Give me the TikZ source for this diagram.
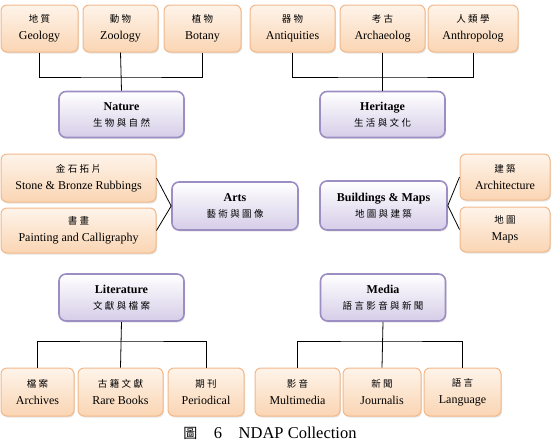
\documentclass[tikz,border=0pt]{standalone}
\usepackage{fontspec}
\setmainfont{Liberation Serif}
\newfontfamily\cjk[LetterSpace=25]{Noto Sans CJK TC}
\usetikzlibrary{shadows}
\usepackage{xcolor}

\definecolor{leafline}{HTML}{F2B88A}
\definecolor{leaftop}{HTML}{FEF4EA}
\definecolor{leafbot}{HTML}{FAD5B3}
\definecolor{grpline}{HTML}{9C8EC3}
\definecolor{grptop}{HTML}{FFFFFF}
\definecolor{grpbot}{HTML}{D6CDE8}

\newcommand{\zh}[1]{{\cjk\mdseries\fontsize{9.5}{12}\selectfont #1}}

\tikzset{
  leaf/.style={draw=leafline, line width=1pt, rounded corners=6pt,
    top color=leaftop, bottom color=leafbot, align=center, inner sep=0pt,
    font=\fontsize{12}{17}\selectfont,
    drop shadow={opacity=0.2, shadow xshift=1pt, shadow yshift=-1.5pt}},
  group/.style={draw=grpline, line width=1.6pt, rounded corners=7pt,
    top color=grptop, bottom color=grpbot, align=center, inner sep=0pt,
    font=\fontsize{12}{16}\selectfont\bfseries,
    minimum width=125pt, minimum height=46pt,
    drop shadow={opacity=0.2, shadow xshift=1pt, shadow yshift=-1.5pt}}
}

\begin{document}
\begin{tikzpicture}[x=1pt, y=-1pt, thick]
  \useasboundingbox (0,0) rectangle (553,442);

  % top row
  \node[leaf, minimum width=77pt, minimum height=47pt] (geo) at (39.5,28.5) {\zh{地質}\\Geology};
  \node[leaf, minimum width=75pt, minimum height=47pt] (zoo) at (120.5,28.5) {\zh{動物}\\Zoology};
  \node[leaf, minimum width=77pt, minimum height=47pt] (bot) at (202.5,28.5) {\zh{植物}\\Botany};
  \node[leaf, minimum width=85pt, minimum height=47pt] (anti) at (292.5,28.5) {\zh{器物}\\Antiquities};
  \node[leaf, minimum width=85pt, minimum height=47pt] (arch) at (382.5,28.5) {\zh{考古}\\Archaeolog};
  \node[leaf, minimum width=90pt, minimum height=47pt] (anth) at (473,28.5) {\zh{人類學}\\Anthropolog};

  \node[group] (nature) at (121.5,114.5) {Nature\\\zh{生物與自然}};
  \node[group] (heritage) at (382.5,114.5) {Heritage\\\zh{生活與文化}};

  \coordinate (naturebar) at (121.5,77);
  \coordinate (heritagebar) at (382.5,77);
  \draw (geo.south) |- (naturebar) -| (bot.south);
  \draw (zoo.south) -- (nature.north);
  \draw (anti.south) |- (heritagebar) -| (anth.south);
  \draw (arch.south) -- (heritage.north);

  % middle row
  \node[leaf, minimum width=155pt, minimum height=48pt] (rub) at (78.5,178) {\zh{金石拓片}\\Stone \& Bronze Rubbings};
  \node[leaf, minimum width=155pt, minimum height=45pt] (paint) at (78.5,230.5) {\zh{書畫}\\Painting and Calligraphy};
  \node[group, minimum width=126pt, minimum height=48pt] (arts) at (235,206) {Arts\\\zh{藝術與圖像}};

  \node[group, minimum width=127pt, minimum height=49pt] (bmaps) at (383.5,205.5) {Buildings \& Maps\\\zh{地圖與建築}};
  \node[leaf, minimum width=90pt, minimum height=46pt] (archi) at (505,177) {\zh{建築}\\Architecture};
  \node[leaf, minimum width=90pt, minimum height=45pt] (maps) at (505,229.5) {\zh{地圖}\\Maps};

  \draw (rub.east) -- (arts.west);
  \draw (paint.east) -- (arts.west);
  \draw (bmaps.east) -- (archi.west);
  \draw (bmaps.east) -- (maps.west);

  % bottom row
  \node[group, minimum height=47pt] (lit) at (121.5,297.5) {Literature\\\zh{文獻與檔案}};
  \node[group, minimum height=47pt] (media) at (383,297.5) {Media\\\zh{語言影音與新聞}};

  \node[leaf, minimum width=73pt, minimum height=48pt] (archv) at (37.5,392) {\zh{檔案}\\Archives};
  \node[leaf, minimum width=85pt, minimum height=48pt] (rare) at (120.5,392) {\zh{古籍文獻}\\Rare Books};
  \node[leaf, minimum width=76pt, minimum height=48pt] (peri) at (206,392) {\zh{期刊}\\Periodical};
  \node[leaf, minimum width=85pt, minimum height=48pt] (multi) at (297.5,392) {\zh{影音}\\Multimedia};
  \node[leaf, minimum width=78pt, minimum height=48pt] (journ) at (382,392) {\zh{新聞}\\Journalis};
  \node[leaf, minimum width=77pt, minimum height=48pt] (lang) at (462.5,392) {\zh{語言}\\Language};

  \coordinate (litbar) at (121.5,341);
  \coordinate (mediabar) at (383,341);
  \draw (archv.north) |- (litbar) -| (peri.north);
  \draw (lit.south) -- (rare.north);
  \draw (multi.north) |- (mediabar) -| (lang.north);
  \draw (media.south) -- (journ.north);

  \node[font=\fontsize{16.5}{18}\selectfont] (caption) at (270,433) {{\cjk\fontsize{14}{16}\selectfont 圖}\quad 6\quad NDAP Collection};
\end{tikzpicture}
\end{document}
